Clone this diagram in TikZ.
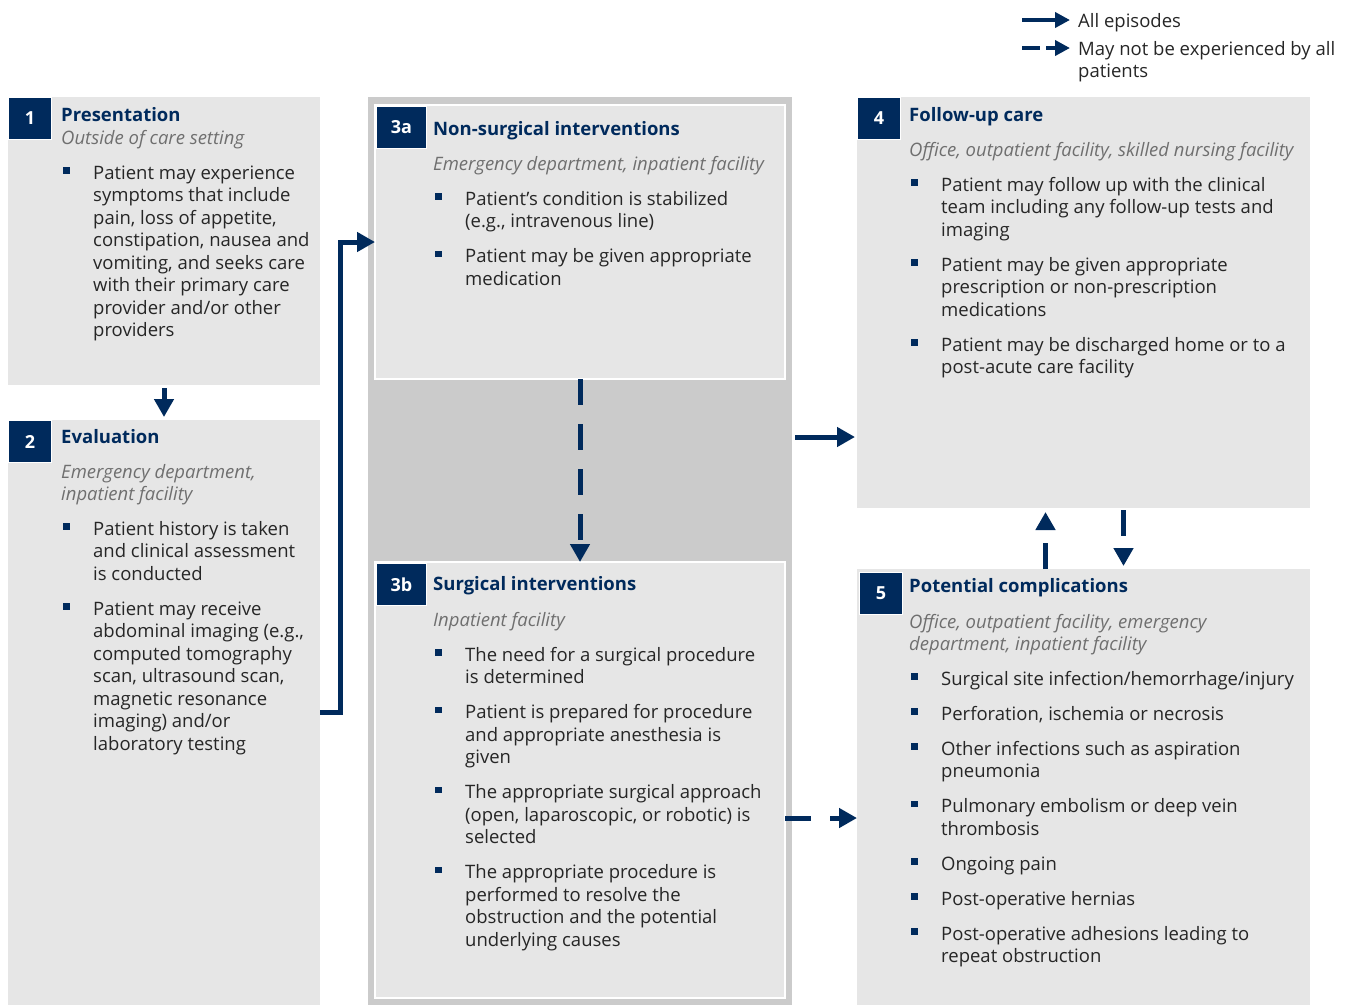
\documentclass[tikz,border=0pt]{standalone}
\usepackage{fontspec}
\setmainfont{Open Sans}
\usetikzlibrary{arrows.meta,positioning,calc}

\definecolor{navy}{HTML}{002A5C}
\definecolor{boxgray}{HTML}{E6E6E6}
\definecolor{groupgray}{HTML}{CBCBCB}
\definecolor{bodytext}{HTML}{262626}
\definecolor{placegray}{HTML}{6F6F6F}

\newcommand{\bodyfont}{\fontsize{18.5}{22.5}\selectfont}
\newcommand{\itm}[1]{\par\hangindent=30pt\hangafter=0\noindent%
  \llap{\textcolor{navy}{\rule[5.5pt]{6.5pt}{6.5pt}}\hspace{23.5pt}}#1\par}
\newcommand{\steps}[1]{\parbox[t]{420pt}{\raggedright\let\\\newline
  \setlength{\parskip}{12.5pt}#1}}
\newcommand{\where}[1]{\parbox[t]{420pt}{\raggedright #1}}

\begin{document}
\begin{tikzpicture}
[x=1pt, y=-1pt,
stage/.style={rectangle, fill=boxgray, anchor=north west, inner sep=0, outer sep=0},
inner/.style={stage, draw=white, line width=1.5pt},
num/.style={rectangle, fill=navy, draw=white, line width=1pt, text=white,
font=\fontsize{18}{20}\selectfont\bfseries, anchor=north west,
minimum width=43pt, minimum height=42pt, inner sep=0},
head/.style={anchor=base west, inner sep=0, text=navy,
font=\fontsize{18.5}{22.5}\selectfont\bfseries},
place/.style={anchor=base west, inner sep=0, text=placegray,
font=\bodyfont\itshape},
list/.style={anchor=base west, inner sep=0, text=bodytext, font=\bodyfont},
flow/.style={draw=navy, line width=5pt, -{Triangle[length=18pt,width=19pt]}},
maybe/.style={flow, dash pattern=on 26pt off 19pt},
key/.style={draw=navy, line width=4.5pt, -{Triangle[length=15pt,width=15pt]}}]

\useasboundingbox (0,0) rectangle (1351,1005);

% Boxes
\node [stage, minimum width=312pt, minimum height=288pt] (pres) at (8,97) {};
\node [stage, minimum width=312pt, minimum height=585pt] (eval) at (8,420) {};
\node [stage, fill=groupgray, minimum width=424pt, minimum height=908pt] (group) at (368,97) {};
\node [inner, minimum width=410pt, minimum height=274pt] (nonsurg) at (375,105) {};
\node [inner, minimum width=410pt, minimum height=436pt] (surg) at (375,562) {};
\node [stage, minimum width=453pt, minimum height=411pt] (fol) at (857,97) {};
\node [stage, minimum width=453pt, minimum height=436pt] (comp) at (857,569) {};

% Numbers
\node [num] (n1) at (8,97) {1};
\node [num] (n2) at (8,420) {2};
\node [num, minimum width=50pt] (n3a) at (376,106) {3a};
\node [num, minimum width=50pt] (n3b) at (376,563) {3b};
\node [num] (n4) at (857,97) {4};
\node [num] (n5) at (859,572) {5};

% Presentation
\node [head] (pres-h) at ([shift={(53,24)}]pres.north west) {Presentation};
\node [place] (pres-p) at ([shift={(53,47)}]pres.north west) {\where{Outside of care setting}};
\node [list] (pres-l) at ([shift={(55,82)}]pres.north west) {\steps{%
\itm{Patient may experience\\ symptoms that include\\ pain, loss of appetite,\\ constipation, nausea and\\ vomiting, and seeks care\\ with their primary care\\ provider and/or other\\ providers}}};

% Evaluation
\node [head] (eval-h) at ([shift={(53,23)}]eval.north west) {Evaluation};
\node [place] (eval-p) at ([shift={(53,58)}]eval.north west) {\where{Emergency department,\\ inpatient facility}};
\node [list] (eval-l) at ([shift={(55,115)}]eval.north west) {\steps{%
\itm{Patient history is taken\\ and clinical assessment\\ is conducted}
\itm{Patient may receive\\ abdominal imaging (e.g.,\\ computed tomography\\ scan, ultrasound scan,\\ magnetic resonance\\ imaging) and/or\\ laboratory testing}}};

% Non-surgical interventions
\node [head] (nonsurg-h) at ([shift={(58,30)}]nonsurg.north west) {Non-surgical interventions};
\node [place] (nonsurg-p) at ([shift={(58,65)}]nonsurg.north west) {\where{Emergency department, inpatient facility}};
\node [list] (nonsurg-l) at ([shift={(60,100)}]nonsurg.north west) {\steps{%
\itm{Patient’s condition is stabilized\\ (e.g., intravenous line)}
\itm{Patient may be given appropriate\\ medication}}};

% Surgical interventions
\node [head] (surg-h) at ([shift={(58,28)}]surg.north west) {Surgical interventions};
\node [place] (surg-p) at ([shift={(58,64)}]surg.north west) {\where{Inpatient facility}};
\node [list] (surg-l) at ([shift={(60,99)}]surg.north west) {\steps{%
\itm{The need for a surgical procedure\\ is determined}
\itm{Patient is prepared for procedure\\ and appropriate anesthesia is\\ given}
\itm{The appropriate surgical approach\\ (open, laparoscopic, or robotic) is\\ selected}
\itm{The appropriate procedure is\\ performed to resolve the\\ obstruction and the potential\\ underlying causes}}};

% Follow-up care
\node [head] (fol-h) at ([shift={(52,24)}]fol.north west) {Follow-up care};
\node [place] (fol-p) at ([shift={(52,59)}]fol.north west) {\where{Office, outpatient facility, skilled nursing facility}};
\node [list] (fol-l) at ([shift={(54,94)}]fol.north west) {\steps{%
\itm{Patient may follow up with the clinical\\ team including any follow-up tests and\\ imaging}
\itm{Patient may be given appropriate\\ prescription or non-prescription\\ medications}
\itm{Patient may be discharged home or to a\\ post-acute care facility}}};

% Potential complications
\node [head] (comp-h) at ([shift={(52,23)}]comp.north west) {Potential complications};
\node [place] (comp-p) at ([shift={(52,59)}]comp.north west) {\where{Office, outpatient facility, emergency\\ department, inpatient facility}};
\node [list] (comp-l) at ([shift={(54,116)}]comp.north west) {\steps{%
\itm{Surgical site infection/hemorrhage/injury}
\itm{Perforation, ischemia or necrosis}
\itm{Other infections such as aspiration\\ pneumonia}
\itm{Pulmonary embolism or deep vein\\ thrombosis}
\itm{Ongoing pain}
\itm{Post-operative hernias}
\itm{Post-operative adhesions leading to\\ repeat obstruction}}};

% Legend
\node [list] (all) at (1078,27) {All episodes};
\node [list] (some) at (1078,55) {\where{May not be experienced by all\\ patients}};
\coordinate (all-a) at (1022,20);
\coordinate (all-b) at (1070,20);
\coordinate (some-a) at (1022,48);
\coordinate (some-b) at (1070,48);
\draw [key] (all-a) -- (all-b);
\draw [key, dash pattern=on 18pt off 6pt] (some-a) -- (some-b);

% Connectors
\coordinate (fol-in) at ([yshift=71pt]fol.south west);
\coordinate (comp-in) at ([yshift=-249pt]comp.north west);
\draw [flow, shorten <=3pt, shorten >=3pt] (pres.south) -- (eval.north);
\draw [flow, line cap=butt] (eval.east) -- ++(20,0) |- (nonsurg.west);
\draw [maybe] (nonsurg.south) -- (surg.north);
\draw [flow, shorten <=3pt, shorten >=2pt] (group.east |- fol-in) -- (fol-in);
\draw [maybe] (surg.east |- comp-in) -- (comp-in);
\draw [maybe, shorten >=4pt] ([xshift=-38pt]comp.north) -- ([xshift=-38pt]fol.south);
\draw [maybe, shorten >=3pt, shorten <=2pt] ([xshift=40pt]fol.south) -- ([xshift=40pt]comp.north);

\end{tikzpicture}
\end{document}
